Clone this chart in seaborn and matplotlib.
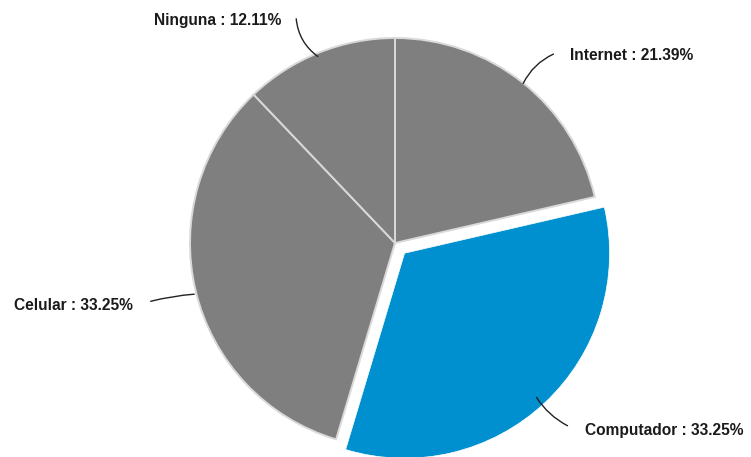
import matplotlib
matplotlib.use("Agg")
import matplotlib.pyplot as plt
import seaborn as sns

sns.set_theme(style="white")
plt.rcParams["font.family"] = ["Liberation Sans", "DejaVu Sans"]

# Share of respondents by device/service
categories = ["Internet", "Computador", "Celular", "Ninguna"]
shares = [21.39, 33.25, 33.25, 12.11]

gray = "#7f7f7f"
blue = "#0090cf"
colors = [gray, blue, gray, gray]

W, H = 751, 457
fig = plt.figure(figsize=(W / 100, H / 100), dpi=100)
ax = fig.add_axes([0, 0, 1, 1])

# the axes use pixel-sized data units, so the explode offset is in those units too
cx, cy, r = 395, H - 243, 205
explode = [0, 14, 0, 0]
wedges, _ = ax.pie(
    shares,
    explode=explode,
    colors=colors,
    startangle=90,
    counterclock=False,
    center=(cx, cy),
    radius=r,
    wedgeprops=dict(edgecolor="#d9d9d9", linewidth=1.4),
    frame=True,
)
# white rim around the highlighted slice
wedges[1].set_edgecolor("white")
wedges[1].set_linewidth(0.5)

ax.set_xlim(0, W)
ax.set_ylim(0, H)
ax.set_aspect("equal")
ax.axis("off")

# label text anchor, leader-line start (near text) and end (on slice), curvature, alignment
label_specs = {
    "Ninguna": ((281, H - 20), (296, H - 16), (320, H - 58), 0.25, "right"),
    "Internet": ((570, H - 55), (556, H - 53), (522, H - 86), 0.2, "left"),
    "Celular": ((133, H - 305), (148, H - 302), (197, H - 294), -0.05, "right"),
    "Computador": ((585, H - 430), (570, H - 427), (535, H - 395), -0.15, "left"),
}

for name, val in zip(categories, shares):
    (tx, ty), (sx, sy), (ex, ey), rad, ha = label_specs[name]
    ax.text(tx, ty, f"{name} : {val:.2f}%", ha=ha, va="center",
            fontsize=11.2, fontweight="bold", color="#1a1a1a")
    ax.annotate("", xy=(ex, ey), xytext=(sx, sy),
                arrowprops=dict(arrowstyle="-", color="#222222", lw=1.0,
                                connectionstyle=f"arc3,rad={rad}"))

fig.savefig("out.png", dpi=100, facecolor="white")
